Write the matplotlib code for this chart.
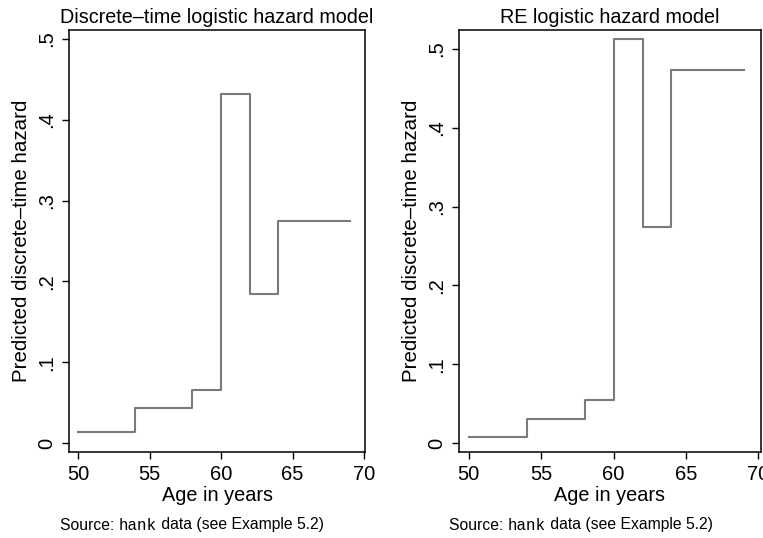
import matplotlib
matplotlib.use("Agg")
import matplotlib.pyplot as plt

plt.rcParams['font.family'] = ['Liberation Sans', 'DejaVu Sans']

# age cut points (start of each interval, plus end of last)
ages = [50, 54, 58, 60, 62, 64, 69]
# predicted hazards per interval
haz_logit = [0.014, 0.043, 0.066, 0.432, 0.185, 0.275]
haz_re = [0.008, 0.030, 0.055, 0.513, 0.274, 0.473]

titles = ["Discrete\u2013time logistic hazard model", "RE logistic hazard model"]
yticks = [0, 0.1, 0.2, 0.3, 0.4, 0.5]
yticklabels = ["0", ".1", ".2", ".3", ".4", ".5"]
xticks = [50, 55, 60, 65, 70]
source = ["Source: ", "hank", " data (see Example 5.2)"]

fig = plt.figure(figsize=(7.63, 5.38), dpi=100)

panels = [
    (haz_logit, [69 / 763, 1 - 452 / 538, 296 / 763, 422 / 538], (49.37, 70.07), (-0.011, 0.511), 192),
    (haz_re, [459 / 763, 1 - 452 / 538, 302 / 763, 422 / 538], (49.33, 70.18), (-0.0114, 0.524), 581),
]

renderer = fig.canvas.get_renderer()
for i, (haz, rect, xl, yl, cx) in enumerate(panels):
    ax = fig.add_axes(rect)
    ax.step(ages, haz + [haz[-1]], where='post', color='#7a7a7a', lw=1.5)
    ax.set_xlim(*xl)
    ax.set_ylim(*yl)
    ax.set_xticks(xticks)
    ax.set_yticks(yticks)
    ax.set_yticklabels(yticklabels, rotation=90, va='center')
    ax.tick_params(labelsize=14.5, length=5, width=1, color='black', pad=4)
    for s in ax.spines.values():
        s.set_linewidth(1.1)
    ax.set_title(titles[i], fontsize=14.2, pad=5)
    ax.set_xlabel("Age in years", fontsize=14.3, labelpad=2)
    ax.set_ylabel("Predicted discrete\u2013time hazard", fontsize=14.8, labelpad=5)

    # source line: mixed sans / monospace pieces, centred under the panel
    pieces = []
    for j, s in enumerate(source):
        fam = ['Liberation Mono'] if j == 1 else ['Liberation Sans']
        t = fig.text(0, 1 - 525 / 538, s, fontsize=11.3, family=fam, va='center', ha='left')
        pieces.append(t)
    widths = [t.get_window_extent(renderer).width for t in pieces]
    x = cx - sum(widths) / 2
    for t, w in zip(pieces, widths):
        t.set_x(x / 763)
        x += w

fig.savefig("out.png", dpi=100)
